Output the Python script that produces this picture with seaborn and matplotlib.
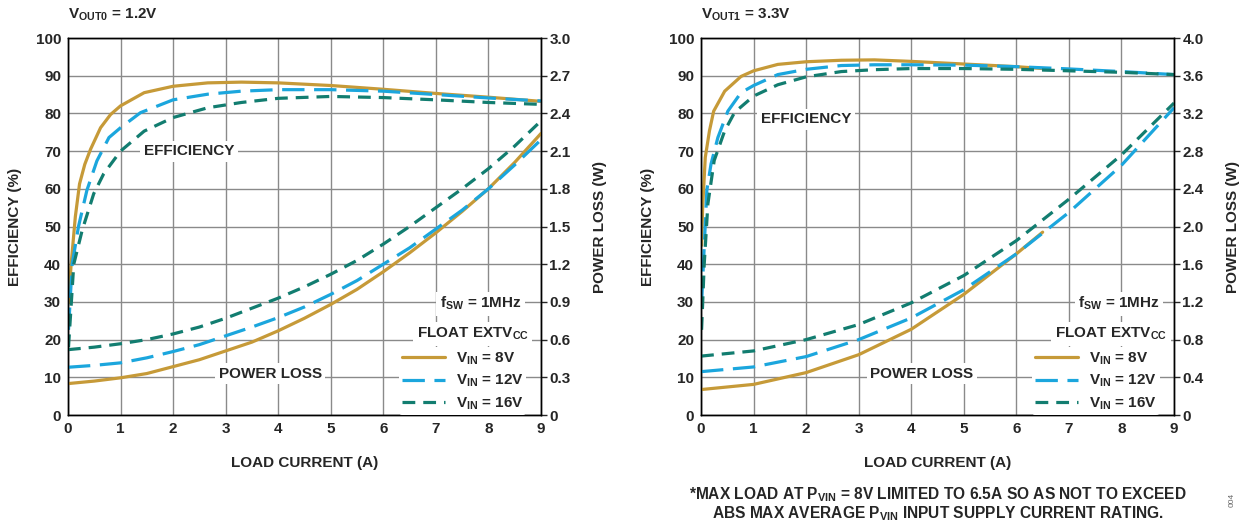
import numpy as np
import pandas as pd
import seaborn as sns
from matplotlib import pyplot as plt

# ---- data ----
# left panel, VOUT0 = 1.2V : efficiency (%)
l_eff8_x = [0.01, 0.06, 0.14, 0.22, 0.32, 0.43, 0.62, 0.81, 1, 1.45, 2, 2.66, 3.3, 4, 5, 6, 7, 8, 9]
l_eff8_y = [29.7, 40, 52.6, 61.3, 66.5, 70.5, 76.2, 79.7, 82, 85.5, 87.2, 88.1, 88.3, 88.1, 87.4, 86.4, 85.3, 84.3, 83.2]
l_eff12_x = [0.01, 0.08, 0.2, 0.36, 0.55, 0.78, 1, 1.38, 2, 2.66, 3.3, 4, 5, 6, 7, 8, 9]
l_eff12_y = [22.6, 40, 50, 59.6, 67.4, 73.6, 76.2, 80.2, 83.6, 85.1, 85.9, 86.3, 86.3, 85.9, 85, 84.1, 83.3]
l_eff16_x = [0.01, 0.11, 0.27, 0.49, 0.68, 1, 1.45, 2, 2.66, 3.3, 4, 5, 6, 7, 8, 9]
l_eff16_y = [18, 40, 49, 58.7, 64, 70, 75.3, 78.9, 81.5, 82.9, 84, 84.5, 84.2, 83.6, 82.9, 82.4]

# left panel power loss (W)
l_pl_x = [0, 0.5, 1, 1.5, 2, 2.5, 3, 3.5, 4, 4.5, 5, 5.5, 6, 6.5, 7, 7.5, 8, 8.5, 9]
l_pl8 = [0.25, 0.27, 0.296, 0.33, 0.385, 0.44, 0.51, 0.58, 0.67, 0.77, 0.88, 1.0, 1.14, 1.29, 1.45, 1.62, 1.8, 2.01, 2.24]
l_pl12 = [0.38, 0.395, 0.415, 0.455, 0.505, 0.56, 0.63, 0.70, 0.775, 0.86, 0.96, 1.07, 1.2, 1.33, 1.48, 1.63, 1.8, 1.99, 2.19]
l_pl16 = [0.52, 0.54, 0.567, 0.60, 0.645, 0.70, 0.77, 0.85, 0.93, 1.02, 1.12, 1.23, 1.36, 1.50, 1.65, 1.80, 1.96, 2.14, 2.34]

# right panel, VOUT1 = 3.3V : efficiency (%)
r_eff8_x = [0.01, 0.03, 0.08, 0.16, 0.24, 0.45, 0.76, 1, 1.46, 2, 2.67, 3.3, 4, 5, 6, 6.5]
r_eff8_y = [45, 55, 68.3, 75.4, 80.6, 85.9, 89.8, 91.3, 93, 93.7, 94.1, 94.2, 93.8, 93.1, 92.4, 91.9]
r_eff12_x = [0.01, 0.06, 0.11, 0.19, 0.32, 0.51, 0.76, 1, 1.46, 2, 2.67, 3.3, 4, 5, 6, 7, 8, 9]
r_eff12_y = [29.6, 44.6, 59.6, 66.6, 73.6, 80.6, 85.5, 87.4, 90.3, 91.7, 92.7, 92.9, 92.9, 92.8, 92.4, 91.8, 91.1, 90.3]
r_eff16_x = [0.01, 0.06, 0.13, 0.25, 0.45, 0.64, 1, 1.46, 2, 2.67, 3.3, 4, 5, 6, 7, 8, 9]
r_eff16_y = [22.6, 40, 56, 67.5, 75.4, 80.3, 84.6, 87.6, 89.7, 91.1, 91.6, 91.9, 91.9, 91.7, 91.3, 90.9, 90.3]

# right panel power loss (W)
r_pl8_x = [0, 1, 2, 3, 4, 5, 6, 6.5]
r_pl8 = [0.27, 0.325, 0.45, 0.64, 0.91, 1.28, 1.71, 1.94]
r_pl_x = [0, 1, 2, 3, 4, 5, 6, 7, 8, 9]
r_pl12 = [0.46, 0.51, 0.62, 0.80, 1.03, 1.33, 1.71, 2.15, 2.65, 3.26]
r_pl16 = [0.625, 0.68, 0.80, 0.96, 1.19, 1.48, 1.85, 2.29, 2.76, 3.31]

labels = [r"V$_{\mathrm{IN}}$ = 8V", r"V$_{\mathrm{IN}}$ = 12V", r"V$_{\mathrm{IN}}$ = 16V"]
colors = ["#C69A38", "#1BA6DD", "#127D70"]
styles = ["-", (0, (7, 3)), (0, (4, 2.5))]

sns.set_style("white")
plt.rcParams['font.family'] = ['Liberation Sans', 'DejaVu Sans']
plt.rcParams['font.weight'] = 'bold'
plt.rcParams['mathtext.fontset'] = 'custom'
plt.rcParams['mathtext.rm'] = 'Liberation Sans:bold'
plt.rcParams['mathtext.it'] = 'Liberation Sans:bold'
plt.rcParams['mathtext.bf'] = 'Liberation Sans:bold'
FS = 11

fig = plt.figure(figsize=(12.45, 5.25), dpi=100)


def panel(rect, title, eff, pl, pl_max, eff_lbl, pl_lbl, fsw_xy, float_xy):
    ax = fig.add_axes(rect)
    ax2 = ax.twinx()
    for (x, y), c, ls in zip(eff, colors, styles):
        sns.lineplot(x=x, y=y, ax=ax, color=c, linestyle=ls, linewidth=2.3)
    for (x, y), c, ls, lab in zip(pl, colors, styles, labels):
        sns.lineplot(x=x, y=y, ax=ax2, color=c, linestyle=ls, linewidth=2.3, label=lab)
    ax.set_xlim(0, 9)
    ax.set_ylim(0, 100)
    ax2.set_ylim(0, pl_max)
    ax.set_xticks(range(10))
    ax.set_yticks(range(0, 101, 10))
    ticks = np.linspace(0, pl_max, 11)
    ax2.set_yticks(ticks)
    ax2.set_yticklabels(["0"] + [f"{v:.1f}" for v in ticks[1:]])
    ax.grid(True, color="#8a8a8a", linewidth=1.0)
    ax.set_axisbelow(True)
    for a in (ax, ax2):
        for s in a.spines.values():
            s.set_color("black")
            s.set_linewidth(1.0)
    ax.tick_params(axis="both", length=0, labelsize=FS, pad=5)
    ax2.tick_params(axis="y", length=4, width=1, labelsize=FS, pad=2, direction="out")
    for t in ax.get_xticklabels() + ax.get_yticklabels() + ax2.get_yticklabels():
        t.set_fontweight("bold")
    ax.set_xlabel("LOAD CURRENT (A)", fontsize=FS, fontweight="bold")
    ax.set_ylabel("EFFICIENCY (%)", fontsize=FS, fontweight="bold")
    ax2.set_ylabel("POWER LOSS (W)", fontsize=FS, fontweight="bold")
    ax.xaxis.set_label_coords(0.5, -0.11)
    ax.yaxis.set_label_coords(-0.097, 0.5)
    ax2.yaxis.set_label_coords(1.11, 0.5)
    ax.text(0.0, 1.062, title, transform=ax.transAxes, fontsize=FS,
            fontweight="bold", va="center", ha="left")
    box = dict(facecolor="white", edgecolor="none", pad=2.5)
    ax.text(eff_lbl[0], eff_lbl[1], "EFFICIENCY", fontsize=FS, fontweight="bold",
            ha="center", va="center", bbox=box)
    ax.text(pl_lbl[0], pl_lbl[1], "POWER LOSS", fontsize=FS, fontweight="bold",
            ha="center", va="center", bbox=box)
    ax.text(fsw_xy[0], fsw_xy[1], r"f$_{\mathrm{SW}}$ = 1MHz", fontsize=FS,
            fontweight="bold", ha="center", va="center", bbox=box)
    ax.text(float_xy[0], float_xy[1], r"FLOAT EXTV$_{\mathrm{CC}}$", fontsize=FS,
            fontweight="bold", ha="center", va="center", bbox=box)
    leg = ax2.legend(loc="upper left", bbox_to_anchor=(0.70, 0.18), frameon=True,
                     fontsize=FS, handlelength=2.8, labelspacing=0.42,
                     borderpad=0.2, handletextpad=0.7, borderaxespad=0)
    leg.get_frame().set_facecolor("white")
    leg.get_frame().set_edgecolor("none")
    leg.get_frame().set_alpha(1)
    for t in leg.get_texts():
        t.set_fontweight("bold")
    return ax, ax2


panel([0.0546, 0.2095, 0.3799, 0.7181], r"V$_{\mathrm{OUT0}}$ = 1.2V",
      [(l_eff8_x, l_eff8_y), (l_eff12_x, l_eff12_y), (l_eff16_x, l_eff16_y)],
      [(l_pl_x, l_pl8), (l_pl_x, l_pl12), (l_pl_x, l_pl16)], 3.0,
      (2.3, 70), (3.85, 11), (7.85, 29.5), (7.7, 21.5))

panel([0.5631, 0.2095, 0.3799, 0.7181], r"V$_{\mathrm{OUT1}}$ = 3.3V",
      [(r_eff8_x, r_eff8_y), (r_eff12_x, r_eff12_y), (r_eff16_x, r_eff16_y)],
      [(r_pl8_x, r_pl8), (r_pl_x, r_pl12), (r_pl_x, r_pl16)], 4.0,
      (2.0, 78.5), (4.2, 11), (7.95, 29.5), (7.8, 21.5))

fig.text(0.753, 0.057, r"*MAX LOAD AT P$_{\mathrm{VIN}}$ = 8V LIMITED TO 6.5A SO AS NOT TO EXCEED",
         ha="center", va="center", fontsize=11.2, fontweight="bold")
fig.text(0.753, 0.022, r"ABS MAX AVERAGE P$_{\mathrm{VIN}}$ INPUT SUPPLY CURRENT RATING.",
         ha="center", va="center", fontsize=11.2, fontweight="bold")
fig.text(0.99, 0.047, "004", rotation=90, ha="center", va="center", fontsize=6,
         color="#666666", fontweight="normal")

fig.savefig("out.png", dpi=100)
